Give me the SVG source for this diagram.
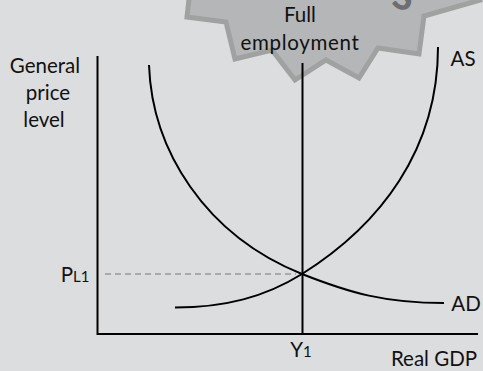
<svg xmlns="http://www.w3.org/2000/svg" width="483" height="371" viewBox="0 0 483 371">
<style>
text{font-family:"Lato","Open Sans","Liberation Sans",sans-serif;font-size:20.500px;fill:#111;text-anchor:middle}
.c{fill:none;stroke:#000;stroke-width:2}
.s{font-size:15px}
</style>
<rect width="483" height="371" fill="#dcddde"/>
<g id="starburst">
<path d="M190 -10L187 17L226 22L235 59L272 50L295 80L326 60L359 78L378 48L419 54L424 16L480 0L480 -10Z" fill="#b5b6b8" stroke="#a0a2a2" stroke-width="5"/>
<text x="400" y="9" transform="rotate(18 400 9)" style="fill:#6d6e71;font-size:36px;font-weight:900">S</text>
<text x="300" y="22">Full</text>
<text x="300" y="49.500" letter-spacing="0.700">employment</text>
</g>
<g id="connectors">
<path class="c" d="M97.500 56V334H478"/>
<path class="c" d="M302.500 63V334"/>
<path d="M105 274H296" fill="none" stroke="#a7a9ac" stroke-width="2" stroke-dasharray="6 4"/>
<path id="ad" class="c" d="M149 65C152 150 205 235 302 274C350 293 385 303 444 303"/>
<path id="as" class="c" d="M175 307.500C225 307.500 265 297 302 274C380 225 438 150 438 47"/>
</g>
<g id="labels">
<text x="45" y="73">General</text>
<text x="48" y="100">price</text>
<text x="44" y="127">level</text>
<text x="463" y="66">AS</text>
<text x="466" y="311">AD</text>
<text x="434" y="366">Real GDP</text>
<text x="75" y="282">P<tspan class="s">L1</tspan></text>
<text x="301" y="357">Y<tspan class="s">1</tspan></text>
</g>
</svg>
